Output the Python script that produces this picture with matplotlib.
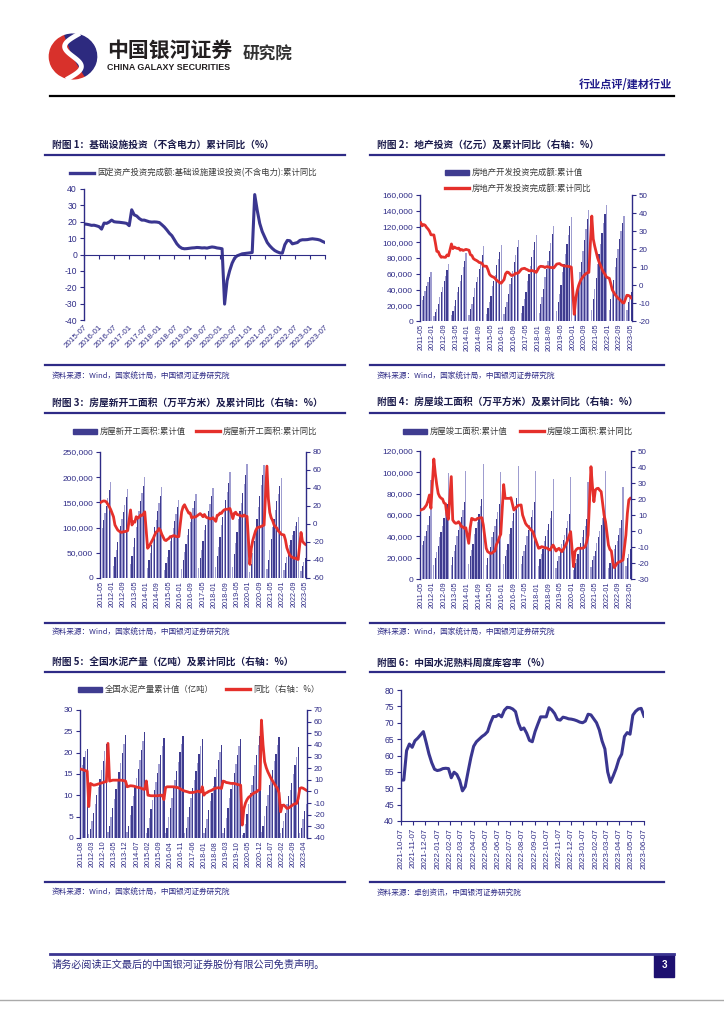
import numpy as np
import pandas as pd
import matplotlib
matplotlib.use("Agg")
import matplotlib.pyplot as plt
from matplotlib.patches import Rectangle, Wedge
from matplotlib.ticker import FuncFormatter

plt.rcParams['font.family'] = ['Liberation Sans', 'Noto Sans CJK SC', 'DejaVu Sans']
plt.rcParams['axes.unicode_minus'] = False

nan = np.nan
CJK = ['Noto Sans CJK SC', 'DejaVu Sans']
NAVY = '#2e2b86'
LINE = '#3a3690'
BAR = '#3f3c90'
BAR_LIGHT = '#9f9dd0'
RED = '#e5302b'

# ---------------- data ----------------
# fig 1: infrastructure investment (ex power), cumulative yoy %, monthly from 2015-07
infra_months = pd.period_range('2015-07', '2023-07', freq='M').strftime('%Y-%m')
infra_yoy = [18.6, 18.5, 18.2, 17.8, 17.9, 17.5,
             17.0, 15.5, 19.2, 19.0, 19.8, 21.0, 20.0, 19.8, 19.7, 19.5, 19.3, 19.0,
             17.6, 27.3, 24.2, 23.5, 22.0, 21.0, 21.0, 20.5, 20.0, 19.8, 19.9, 19.8,
             19.5, 18.2, 16.8, 15.0, 13.0, 11.5, 9.0, 6.5, 4.8, 3.8, 3.5, 3.6,
             3.8, 4.0, 4.1, 4.3, 4.2, 4.0, 4.1, 3.9, 4.3, 4.6, 4.4, 4.0,
             3.8, 3.5, -30.3, -16.0, -10.0, -5.3, -2.2, -0.8, -0.2, 0.4, 0.6, 0.8,
             1.0, 1.2, 36.6, 27.0, 19.0, 14.0, 10.6, 7.3, 5.3, 3.7, 2.4, 1.6,
             1.0, 0.8, 6.0, 8.6, 8.4, 6.5, 6.9, 7.3, 8.6, 9.0, 9.0, 9.1,
             9.4, 9.6, 9.4, 9.2, 8.8, 8.0, 7.3]

# fig 2-4: monthly from 2011-05 to 2023-05
re_months = pd.period_range('2011-05', '2023-05', freq='M').strftime('%Y-%m')
re_inv = [18737, 26250, 31533, 37781, 44231, 49782, 55720, 61740,
          nan, 5948, 10941, 15493, 22154, 30610, 36568, 43042, 50174, 57130, 64445, 71804,
          nan, 7349, 13127, 18650, 26108, 36828, 43163, 50316, 59001, 68031, 76260, 86013,
          nan, 8081, 15339, 21637, 30251, 42019, 48904, 56152, 65860, 74952, 84270, 95036,
          nan, 8786, 16086, 23627, 32166, 43955, 51034, 58730, 70535, 78801, 87105, 95979,
          nan, 9032, 17677, 24579, 33774, 46631, 55000, 63000, 74598, 83798, 93387, 102581,
          nan, 9854, 19292, 27732, 37270, 50610, 59761, 69694, 80644, 90544, 100387, 109799,
          nan, 10357, 21291, 30592, 40632, 55531, 65462, 76519, 88948, 99325, 110083, 120264,
          nan, 12090, 23803, 34217, 46075, 61609, 72843, 84589, 98008, 109603, 121265, 132194,
          nan, 10115, 21963, 33103, 45920, 62780, 75325, 88454, 103484, 116556, 129492, 141443,
          nan, 13986, 27576, 40240, 54318, 72179, 84895, 98060, 112253, 124934, 136275, 147602,
          nan, 14499, 27765, 39154, 52134, 68314, 79462, 90809, 103559, 113945, 123863, 132895,
          nan, 13669, 24000, 30000, 37000]
re_inv_yoy = [34.6, 32.9, 33.6, 33.2, 32.0, 31.1, 29.9, 27.9,
              nan, 27.8, 23.5, 18.7, 18.5, 16.6, 15.4, 15.6, 15.4, 15.4, 16.7, 16.2,
              nan, 22.8, 20.2, 21.1, 20.6, 20.3, 20.5, 19.3, 19.7, 19.2, 19.5, 19.8,
              nan, 19.3, 16.8, 16.4, 14.7, 14.1, 13.7, 13.2, 12.5, 12.4, 11.9, 10.5,
              nan, 10.4, 8.5, 6.0, 5.1, 4.6, 4.3, 3.5, 2.6, 2.0, 1.3, 1.0,
              nan, 3.0, 6.2, 7.2, 7.0, 6.1, 5.3, 5.4, 5.8, 6.6, 6.5, 6.9,
              nan, 8.9, 9.1, 9.3, 8.8, 8.5, 7.9, 7.9, 8.1, 7.8, 7.5, 7.0,
              nan, 9.9, 10.4, 10.3, 10.2, 9.7, 10.2, 10.1, 9.9, 9.7, 9.7, 9.5,
              nan, 11.6, 11.8, 11.9, 11.2, 10.9, 10.6, 10.5, 10.5, 10.3, 10.2, 9.9,
              nan, -16.3, -7.7, -3.3, -0.3, 1.9, 3.4, 4.6, 5.6, 6.3, 6.8, 7.0,
              nan, 38.3, 25.6, 21.6, 18.3, 15.0, 12.7, 10.9, 8.8, 7.2, 6.0, 4.4,
              nan, 3.7, 0.7, -2.7, -4.0, -5.4, -6.4, -7.4, -8.0, -8.8, -9.8, -10.0,
              nan, -5.7, -5.8, -6.2, -7.2]

starts = [75000, 100000, 115000, 128000, 143000, 158000, 174000, 191000,
          nan, 23000, 41000, 55000, 72000, 91000, 104000, 117000, 131000, 145000, 160000, 177334,
          nan, 27000, 44000, 61000, 80000, 101000, 117000, 132000, 152000, 169000, 183000, 201208,
          nan, 20000, 36000, 50000, 66000, 85000, 101000, 115000, 132000, 148000, 163000, 179592,
          nan, 16000, 29000, 42000, 56000, 74000, 86000, 99000, 113000, 127000, 141000, 154454,
          nan, 18000, 35000, 51000, 67000, 86000, 97000, 111000, 124000, 138000, 152000, 166928,
          nan, 20000, 39000, 56000, 73000, 95000, 105000, 118000, 132000, 147000, 162000, 178654,
          nan, 21000, 43000, 62000, 82000, 106000, 121000, 137000, 154000, 170000, 188000, 209342,
          nan, 22000, 48000, 70000, 91000, 117000, 133000, 149000, 168000, 187000, 205000, 227154,
          nan, 11000, 28000, 49000, 73000, 98000, 118000, 140000, 162000, 184000, 204000, 224433,
          nan, 18000, 36000, 56000, 78000, 101000, 117000, 135000, 152000, 167000, 183000, 198895,
          nan, 15000, 30000, 41000, 54000, 66000, 76000, 85000, 94000, 103000, 112000, 120587,
          nan, 13500, 24000, 32000, 40000]
starts_yoy = [24.0, 25.0, 25.6, 25.5, 24.5, 22.0, 19.3, 16.2,
              nan, 8.0, -1.0, -4.0, -6.7, -8.0, -9.0, -9.3, -8.5, -8.5, -8.0, -7.3,
              nan, 15.6, -1.1, 2.6, 2.0, 8.1, 6.3, 7.5, 10.0, 9.5, 11.0, 13.5,
              nan, -27.0, -25.0, -22.0, -19.0, -16.0, -12.2, -9.0, -8.0, -5.0, -7.0, -11.5,
              nan, -17.8, -18.4, -17.0, -16.0, -14.0, -14.0, -13.0, -13.0, -14.0, -14.0, -14.0,
              nan, 13.7, 19.2, 21.4, 18.0, 14.9, 12.0, 12.2, 6.8, 7.8, 7.6, 8.1,
              nan, 10.4, 11.6, 10.0, 8.1, 10.6, 7.9, 6.9, 6.6, 5.6, 6.1, 7.0,
              nan, 2.9, 9.7, 10.1, 12.2, 11.8, 14.4, 15.7, 16.4, 16.3, 16.8, 17.2,
              nan, 6.0, 11.9, 13.1, 10.5, 10.1, 9.5, 8.9, 8.6, 10.0, 8.6, 8.5,
              nan, -44.9, -27.2, -18.4, -12.8, -7.6, -4.5, -3.6, -3.4, -2.6, -2.0, -1.2,
              nan, 64.3, 28.2, 12.8, 6.9, 3.8, -0.9, -3.2, -4.5, -7.7, -9.1, -11.4,
              nan, -12.2, -17.5, -26.3, -30.6, -34.4, -36.1, -37.2, -38.0, -37.8, -38.9, -39.4,
              nan, -9.4, -19.2, -21.2, -22.6]

completed = [26000, 32000, 36000, 40000, 45000, 51000, 59000, 92620,
             nan, 13000, 20000, 25500, 30500, 39000, 44500, 50000, 57000, 63000, 70500, 99425,
             nan, 13200, 21000, 26000, 31500, 40000, 45500, 51000, 58500, 65000, 72000, 101435,
             nan, 13800, 21500, 27000, 32500, 42000, 47500, 53500, 61000, 68000, 75000, 107459,
             nan, 13000, 20000, 25000, 30000, 39500, 44500, 50000, 56500, 63000, 70000, 100039,
             nan, 14500, 22000, 27500, 33000, 42500, 48000, 54000, 61500, 68500, 76000, 106128,
             nan, 14000, 21500, 26500, 31500, 40500, 45500, 51000, 58000, 65000, 72000, 101486,
             nan, 11900, 19000, 23500, 28000, 36000, 40500, 45500, 51500, 57500, 64000, 93550,
             nan, 10500, 16800, 21200, 25000, 32500, 37000, 41500, 47500, 54000, 61000, 95942,
             nan, 8500, 15000, 19000, 23000, 29000, 34000, 39500, 45500, 50000, 56500, 91218,
             nan, 11500, 17500, 22000, 26000, 34000, 39000, 45000, 51000, 57000, 62000, 101412,
             nan, 10000, 15000, 19000, 22500, 28500, 32000, 36000, 41000, 47500, 55500, 86222,
             nan, 12600, 19400, 23900, 27800]
completed_yoy = [13.1, 13.5, 13.8, 15.0, 16.3, 19.0, 22.5, 14.2,
                 nan, 45.0, 36.0, 29.0, 23.5, 21.5, 20.5, 20.0, 17.5, 17.0, 10.0, 7.3,
                 nan, 34.0, 6.9, 5.5, 4.8, 5.0, 5.8, 4.5, 2.7, 2.5, 1.7, 2.0,
                 nan, -7.7, 2.0, 7.9, 7.5, 6.9, 7.0, 7.9, 8.0, 8.3, 8.3, 3.8,
                 nan, -10.8, -12.9, -13.5, -14.0, -13.8, -12.9, -12.5, -8.5, -6.7, -4.0, -2.0,
                 nan, 29.0, 20.4, 20.4, 20.4, 20.4, 20.8, 17.0, 13.1, 14.0, 15.2, 16.0,
                 nan, 16.3, 10.0, 7.5, 4.8, 3.5, 2.7, 1.5, 0.5, -0.4, -3.0, -5.6,
                 nan, -10.8, -10.5, -9.8, -10.0, -10.4, -10.5, -10.8, -11.5, -11.9, -10.0, -8.8,
                 nan, -12.5, -11.5, -10.8, -12.0, -12.9, -11.5, -9.8, -8.0, -5.6, -3.0, -0.4,
                 nan, -22.3, -12.9, -11.5, -10.8, -10.8, -10.8, -10.8, -10.5, -9.8, -7.0, -2.5,
                 nan, 40.2, 28.0, 18.3, 25.6, 26.5, 26.7, 25.5, 24.6, 17.3, 10.0, 5.8,
                 nan, -8.8, -11.5, -12.5, -19.2, -22.9, -21.5, -20.2, -19.5, -19.2, -18.6, -18.1,
                 nan, -2.5, 11.0, 19.4, 20.4]

# fig 5: cement output, monthly from 2011-08 to 2023-05
cement_months = pd.period_range('2011-08', '2023-05', freq='M').strftime('%Y-%m')
cement = [15.0, 17.0, 19.0, 20.5, 20.9,
          1.0, 2.2, 4.0, 5.9, 8.0, 10.1, 12.0, 13.9, 16.0, 18.1, 20.3, 22.1,
          1.3, 2.7, 4.9, 7.0, 9.2, 11.5, 13.3, 15.4, 17.6, 19.9, 22.1, 24.2,
          1.3, 2.7, 5.3, 7.5, 9.8, 12.1, 14.0, 16.1, 18.3, 20.6, 22.8, 24.8,
          1.2, 2.4, 4.7, 6.8, 9.0, 11.3, 13.2, 15.2, 17.3, 19.5, 21.6, 23.5,
          1.1, 2.3, 4.9, 7.1, 9.4, 11.8, 13.7, 15.7, 17.9, 20.1, 22.1, 24.0,
          1.2, 2.4, 5.0, 7.2, 9.4, 11.7, 13.6, 15.6, 17.6, 19.7, 21.5, 23.2,
          1.1, 2.3, 4.5, 6.5, 8.6, 10.5, 12.2, 14.2, 16.2, 18.3, 20.1, 21.8,
          1.2, 2.4, 4.8, 7.0, 9.3, 11.4, 13.2, 15.2, 17.3, 19.5, 21.6, 23.3,
          0.6, 1.2, 3.3, 5.6, 8.0, 10.5, 12.5, 14.6, 17.0, 19.4, 21.8, 23.8,
          1.4, 2.8, 5.2, 7.6, 10.0, 12.4, 14.1, 16.0, 18.0, 19.8, 21.8, 23.6,
          1.2, 2.3, 4.0, 5.9, 8.0, 9.8, 11.3, 13.0, 15.0, 17.0, 19.1, 21.3,
          1.2, 2.4, 4.4, 6.4, 8.0]
cement_yoy = [19.2, 18.8, 18.3, 17.8, 17.5,
              -13.0, 6.9, 6.2, 5.4, 5.6, 6.0, 6.5, 6.9, 7.3, 7.7, 8.3, 8.3,
              41.3, 8.9, 9.3, 9.7, 9.7, 9.7, 9.7, 9.7, 9.7, 9.5, 9.3, 8.9,
              4.0, 4.5, 4.9, 4.8, 4.6, 4.2, 3.7, 3.4, 3.2, 2.6, 2.0, 1.8,
              9.0, -3.2, -3.5, -3.7, -3.7, -3.7, -3.7, -3.7, -3.5, -3.2, -3.2, -7.0,
              3.2, 4.0, 4.0, 4.0, 4.0, 4.0, 3.7, 3.5, 3.2, 2.5, 1.5, 0.9,
              0.3, 0.0, -0.4, -0.9, -0.9, -0.9, -0.6, -0.3, 0.3, 0.0, -0.6, 4.0,
              -3.2, -1.5, -0.9, 0.0, 0.5, 1.1, 2.0, 2.6, 3.0, 3.2, 3.0, 2.6,
              8.9, 8.5, 7.7, 7.5, 7.2, 6.9, 6.9, 6.9, 6.5, 6.0, 5.7, 5.4,
              -28.9, -15.0, -10.0, -7.0, -5.0, -4.0, -2.5, -1.7, -0.8, -0.3, 1.0, 1.6,
              61.3, 40.0, 25.5, 20.5, 16.9, 14.0, 11.2, 9.0, 6.9, 4.5, 2.6, -1.2,
              -17.5, -12.0, -11.7, -13.0, -14.6, -14.2, -13.2, -12.2, -11.2, -10.6, -10.3, -6.0,
              2.5, 3.2, 2.8, 2.0, 1.1]

# fig 6: clinker inventory ratio, weekly from 2021-10-07
clinker_dates = pd.date_range('2021-10-07', periods=88, freq='7D')
clinker_ticks = pd.date_range('2021-10-07', '2023-06-07', freq=pd.DateOffset(months=1))
clinker = [52.5, 52.5, 61.5, 63.5, 62.5, 64.5, 65.3, 66.3, 67.3, 64.0,
           60.5, 57.8, 55.8, 55.4, 55.6, 56.0, 56.1, 56.0, 53.2, 54.9,
           54.2, 52.4, 49.2, 50.5, 55.0, 59.3, 62.8, 64.2, 65.0, 65.8,
           66.4, 67.3, 69.9, 71.9, 71.9, 72.5, 71.8, 73.8, 74.7, 74.6,
           74.2, 73.4, 70.0, 67.9, 68.4, 66.8, 64.6, 64.2, 67.3, 69.6,
           71.8, 71.8, 71.8, 74.6, 73.9, 72.8, 71.0, 70.8, 71.7, 71.5,
           71.2, 71.1, 70.9, 70.6, 70.2, 70.0, 70.5, 72.6, 72.4, 71.2,
           70.0, 67.8, 64.4, 62.0, 55.0, 51.8, 53.8, 56.0, 58.8, 60.4,
           65.8, 67.0, 66.5, 72.3, 73.5, 74.2, 74.4, 72.0]

# ---------------- figure ----------------
W, H = 724, 1024
fig = plt.figure(figsize=(W / 100, H / 100), dpi=100)


def px_axes(x0, y0, x1, y1):
    return fig.add_axes([x0 / W, 1 - y1 / H, (x1 - x0) / W, (y1 - y0) / H])


bg = fig.add_axes([0, 0, 1, 1])
bg.set_xlim(0, W)
bg.set_ylim(H, 0)
bg.axis('off')

# header
lg = px_axes(47, 33, 99, 80)
lg.set_xlim(-1.1, 1.1)
lg.set_ylim(-1.05, 1.05)
lg.axis('off')
lg.add_patch(Wedge((0, 0), 1.0, 110, 300, color='#d8312b'))
lg.add_patch(Wedge((0, 0), 1.0, -60, 110, color='#2d2a7f'))
s = np.linspace(-1, 1, 60)
lg.plot(-0.45 * np.sin(np.pi * s) + 0.2 * s, 0.98 * s, color='white', lw=3.5)

bg.text(107, 50, '中国银河证券', fontsize=15, fontweight='bold', family=CJK,
        color='#231f20', va='center')
bg.text(107, 68, 'CHINA GALAXY SECURITIES', fontsize=6.4, fontweight='bold',
        color='#231f20', va='center')
bg.text(243, 55, '研究院', fontsize=12, fontweight='bold', family=CJK,
        color='#333333', va='center')
bg.text(672, 84, '行业点评/建材行业', fontsize=8, fontweight='bold', family=CJK,
        color='#1f1a8a', ha='right', va='center')
bg.plot([50, 674], [96, 96], color='black', lw=1.6)

# footer
bg.plot([50, 674], [954, 954], color='#3b3591', lw=2)
bg.text(52, 965, '请务必阅读正文最后的中国银河证券股份有限公司免责声明。', fontsize=7.3,
        family=CJK, color='#2b2a7f', va='center')
bg.add_patch(Rectangle((654, 954), 20, 23, color='#1d1070'))
bg.text(664, 965, '3', color='white', fontsize=7, fontweight='bold', ha='center', va='center')
bg.plot([0, W], [1000, 1000], color='#aaaaaa', lw=1)


def frame(x0, x1, y_title, y_rule, y_bottom, y_src, title, src):
    bg.text(x0 + 7, y_title, title, fontsize=7.0, fontweight='bold', family=CJK,
            color='#1b1b4b', va='center')
    bg.plot([x0, x1], [y_rule, y_rule], color=NAVY, lw=1.6)
    bg.plot([x0, x1], [y_bottom, y_bottom], color=NAVY, lw=1.6)
    bg.text(x0 + 7, y_src, src, fontsize=5.5, style='italic', family=CJK,
            color=NAVY, va='center')


def legend_bar(x, y, text):
    bg.add_patch(Rectangle((x, y - 2.5), 24, 5, color=BAR))
    bg.text(x + 27, y, text, fontsize=6.0, family=CJK, color='#3a3a3a', va='center')


def legend_line(x, y, text, color=RED):
    bg.plot([x, x + 24], [y, y], color=color, lw=2.4)
    bg.text(x + 27, y, text, fontsize=6.0, family=CJK, color='#3a3a3a', va='center')


def style_y(ax, side, size=5.8):
    ax.tick_params(axis='y', direction='out', length=3, width=0.8, colors=NAVY,
                   labelsize=size, pad=2)
    for sp in ax.spines.values():
        sp.set_visible(False)
    ax.spines[side].set_visible(True)
    ax.spines[side].set_color(NAVY)
    ax.spines[side].set_linewidth(1.0)


def bar_line(rect, months, vals, yoy, lims, lticks, rlims, rticks, step, lfmt):
    ax = px_axes(*rect)
    vals = np.array(vals, dtype=float)
    yoy = np.array(yoy, dtype=float)
    x = np.arange(len(vals))
    shades = [BAR if k % 2 == 0 else BAR_LIGHT for k in x]
    ax.bar(x, np.nan_to_num(vals), width=0.85, color=shades, linewidth=0)
    ax.set_xlim(-0.5, len(vals) - 0.5)
    ax.set_ylim(*lims)
    ax.set_yticks(lticks)
    ax.yaxis.set_major_formatter(FuncFormatter(lfmt))
    style_y(ax, 'left', 6.0)
    ax.set_xticks(x[::step])
    ax.set_xticklabels(list(months[::step]), rotation=90, fontsize=5.2, color=NAVY)
    ax.tick_params(axis='x', length=0, pad=2)
    ax.set_facecolor('none')
    ax2 = ax.twinx()
    m = ~np.isnan(yoy)
    ax2.plot(x[m], yoy[m], color=RED, lw=2.0, solid_joinstyle='round')
    ax2.set_ylim(*rlims)
    ax2.set_yticks(rticks)
    style_y(ax2, 'right')
    return ax, ax2


comma = lambda v, p: f'{v:,.0f}'
plain = lambda v, p: f'{v:.0f}'
src_wind = '资料来源：Wind，国家统计局，中国银河证券研究院'

# ---- fig 1 ----
frame(45, 345, 145, 155, 365, 377, '附图 1：基础设施投资（不含电力）累计同比（%）', src_wind)
legend_line(70, 173, '固定资产投资完成额:基础设施建设投资(不含电力):累计同比', color=LINE)
ax1 = px_axes(84, 189, 325, 320)
x1 = np.arange(len(infra_yoy))
ax1.plot(x1, infra_yoy, color=LINE, lw=2.2)
ax1.set_xlim(0, len(infra_yoy) - 1)
ax1.set_ylim(-40, 40)
ax1.set_yticks(range(-40, 41, 10))
style_y(ax1, 'left', 6.2)
ax1.spines['bottom'].set_visible(True)
ax1.spines['bottom'].set_position(('data', 0))
ax1.spines['bottom'].set_color(NAVY)
ax1.set_xticks(x1[::6])
ax1.tick_params(axis='x', length=3, width=0.8, color=NAVY, labelbottom=False)
sec = ax1.secondary_xaxis('bottom')
sec.set_xticks(x1[::6])
sec.set_xticklabels(list(infra_months[::6]), rotation=45, ha='right',
                    rotation_mode='anchor', fontsize=5.8, color=NAVY)
sec.tick_params(length=0, pad=3)
sec.spines['bottom'].set_visible(False)

# ---- fig 2 ----
frame(370, 664, 145, 155, 365, 377, '附图 2：地产投资（亿元）及累计同比（右轴：%）', src_wind)
legend_bar(445, 172, '房地产开发投资完成额:累计值')
legend_line(445, 188, '房地产开发投资完成额:累计同比')
bar_line((420, 195, 632, 321), re_months, re_inv, re_inv_yoy,
         (0, 160000), range(0, 160001, 20000), (-20, 50), range(-20, 51, 10), 8, comma)

# ---- fig 3 ----
frame(45, 345, 403, 413, 623, 633, '附图 3：房屋新开工面积（万平方米）及累计同比（右轴：%）', src_wind)
legend_bar(73, 431, '房屋新开工面积:累计值')
legend_line(196, 431, '房屋新开工面积:累计同比')
bar_line((100, 452, 306, 578), re_months, starts, starts_yoy,
         (0, 250000), range(0, 250001, 50000), (-60, 80), range(-60, 81, 20), 8, comma)

# ---- fig 4 ----
frame(370, 664, 403, 413, 623, 633, '附图 4：房屋竣工面积（万平方米）及累计同比（右轴：%）', src_wind)
legend_bar(403, 431, '房屋竣工面积:累计值')
legend_line(520, 431, '房屋竣工面积:累计同比')
bar_line((420, 451, 631, 579), re_months, completed, completed_yoy,
         (0, 120000), range(0, 120001, 20000), (-30, 50), range(-30, 51, 10), 8, comma)

# ---- fig 5 ----
frame(45, 345, 663, 672, 882, 893, '附图 5：全国水泥产量（亿吨）及累计同比（右轴：%）', src_wind)
legend_bar(78, 689, '全国水泥产量累计值（亿吨）')
legend_line(226, 689, '同比（右轴：%）')
bar_line((80, 710, 307, 838), cement_months, cement, cement_yoy,
         (0, 30), range(0, 31, 5), (-40, 70), range(-40, 71, 10), 7, plain)

# ---- fig 6 ----
frame(370, 664, 663, 672, 882, 893, '附图 6：中国水泥熟料周度库容率（%）',
      '资料来源：卓创资讯，中国银河证券研究院')
ax6 = px_axes(401, 690, 644, 821)
ax6.plot(clinker_dates, clinker, color=LINE, lw=2.2)
ax6.set_xlim(clinker_dates[0], clinker_dates[-1])
ax6.set_ylim(40, 80)
ax6.set_yticks(range(40, 81, 5))
style_y(ax6, 'left', 6.2)
ax6.spines['bottom'].set_visible(True)
ax6.spines['bottom'].set_color(NAVY)
ax6.set_xticks(clinker_ticks)
ax6.set_xticklabels(list(clinker_ticks.strftime('%Y-%m-%d')), rotation=90,
                    fontsize=5.8, color=NAVY)
ax6.tick_params(axis='x', length=3, width=0.8, color=NAVY, pad=2)

fig.savefig('out.png', dpi=100)
